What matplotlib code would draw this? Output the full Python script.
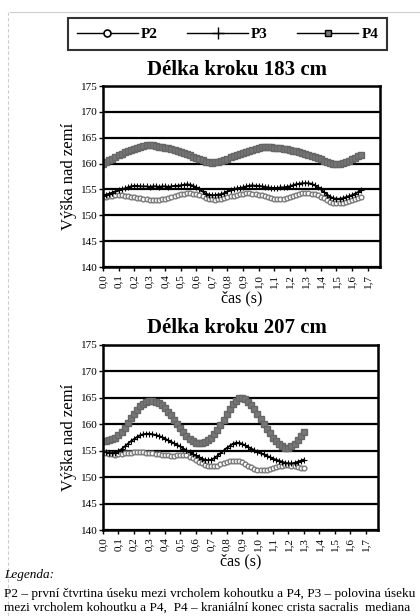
import numpy as np
import matplotlib
matplotlib.use("Agg")
import matplotlib.pyplot as plt
from matplotlib.lines import Line2D
from matplotlib.ticker import FuncFormatter

plt.rcParams['font.family'] = ['Liberation Serif', 'DejaVu Serif']

# krok 0,02 s
# Délka kroku 183 cm
p2_183 = [153.5, 153.6, 153.7, 153.8, 153.9, 153.9, 153.9, 153.8, 153.7, 153.6,
          153.5, 153.4, 153.3, 153.2, 153.1, 153.0, 153.0, 153.0, 153.0, 153.1,
          153.2, 153.3, 153.5, 153.7, 153.9, 154.1, 154.2, 154.3, 154.3, 154.2,
          154.1, 153.9, 153.7, 153.4, 153.2, 153.1, 153.0, 153.1, 153.2, 153.4,
          153.5, 153.7, 153.8, 154.0, 154.1, 154.2, 154.3, 154.3, 154.2, 154.1,
          154.0, 153.9, 153.7, 153.5, 153.4, 153.2, 153.1, 153.1, 153.1, 153.3,
          153.5, 153.8, 154.0, 154.2, 154.3, 154.3, 154.3, 154.2, 154.1, 153.9,
          153.6, 153.3, 152.9, 152.6, 152.4, 152.3, 152.3, 152.4, 152.6, 152.8,
          153.0, 153.2, 153.4, 153.5]
p3_183 = [153.8, 154.0, 154.2, 154.4, 154.6, 154.8, 155.0, 155.2, 155.4, 155.6,
          155.7, 155.7, 155.6, 155.6, 155.6, 155.5, 155.6, 155.6, 155.5, 155.6,
          155.6, 155.5, 155.6, 155.7, 155.7, 155.8, 155.9, 156.0, 155.9, 155.7,
          155.4, 155.0, 154.6, 154.2, 154.0, 153.9, 153.9, 154.0, 154.1, 154.3,
          154.6, 154.8, 155.0, 155.2, 155.3, 155.4, 155.6, 155.7, 155.8, 155.7,
          155.7, 155.6, 155.5, 155.4, 155.3, 155.3, 155.3, 155.4, 155.4, 155.5,
          155.6, 155.8, 156.0, 156.1, 156.2, 156.2, 156.2, 156.1, 155.8, 155.4,
          155.0, 154.5, 154.0, 153.6, 153.3, 153.2, 153.2, 153.3, 153.5, 153.7,
          153.9, 154.2, 154.5, 154.8]
p4_183 = [160.0, 160.3, 160.6, 160.9, 161.3, 161.6, 161.9, 162.2, 162.5, 162.7,
          162.9, 163.1, 163.3, 163.4, 163.5, 163.5, 163.5, 163.4, 163.3, 163.2,
          163.1, 163.0, 162.8, 162.6, 162.5, 162.3, 162.1, 161.8, 161.6, 161.3,
          161.0, 160.8, 160.6, 160.4, 160.3, 160.2, 160.3, 160.4, 160.5, 160.7,
          160.9, 161.2, 161.4, 161.6, 161.8, 162.0, 162.3, 162.5, 162.7, 162.9,
          163.1, 163.2, 163.2, 163.2, 163.2, 163.1, 163.1, 163.0, 162.9, 162.8,
          162.7, 162.5, 162.4, 162.2, 162.1, 161.9, 161.7, 161.5, 161.3, 161.0,
          160.8, 160.5, 160.3, 160.1, 160.0, 160.0, 160.0, 160.1, 160.3, 160.5,
          160.8, 161.1, 161.4, 161.7]

# Délka kroku 207 cm
p2_207 = [154.7, 154.6, 154.4, 154.3, 154.2, 154.3, 154.4, 154.5, 154.6, 154.6,
          154.7, 154.7, 154.7, 154.7, 154.6, 154.6, 154.5, 154.4, 154.3, 154.2,
          154.1, 154.1, 154.0, 154.0, 154.1, 154.1, 154.2, 154.1, 153.9, 153.6,
          153.2, 152.9, 152.6, 152.3, 152.2, 152.1, 152.1, 152.2, 152.4, 152.6,
          152.8, 153.0, 153.1, 153.1, 153.0, 152.8, 152.5, 152.2, 151.9, 151.6,
          151.4, 151.3, 151.3, 151.4, 151.5, 151.7, 151.9, 152.1, 152.2, 152.3,
          152.3, 152.2, 152.1, 151.9, 151.8, 151.7]
p3_207 = [154.8, 154.7, 154.6, 154.5, 154.6, 154.9, 155.3, 155.8, 156.3, 156.8,
          157.2, 157.6, 157.9, 158.1, 158.2, 158.2, 158.1, 158.0, 157.8, 157.6,
          157.3, 157.0, 156.7, 156.4, 156.1, 155.8, 155.4, 155.1, 154.7, 154.4,
          154.1, 153.8, 153.5, 153.3, 153.2, 153.3, 153.6, 154.0, 154.5, 155.0,
          155.5, 155.9, 156.3, 156.5, 156.5, 156.3, 156.0, 155.7, 155.4, 155.1,
          154.8, 154.5, 154.3, 154.0, 153.8, 153.5, 153.3, 153.1, 152.9, 152.7,
          152.6, 152.6, 152.7, 152.9, 153.1, 153.3]
p4_207 = [156.9, 156.9, 157.0, 157.2, 157.5, 157.9, 158.5, 159.3, 160.2, 161.1,
          161.9, 162.7, 163.4, 163.9, 164.3, 164.5, 164.5, 164.3, 164.0, 163.6,
          163.1, 162.4, 161.7, 160.9, 160.1, 159.3, 158.5, 157.8, 157.2, 156.8,
          156.5, 156.4, 156.4, 156.6, 157.0, 157.5, 158.2, 159.0, 159.9, 160.9,
          161.9, 162.9, 163.8, 164.5, 164.9, 165.0, 164.8, 164.3, 163.6, 162.8,
          161.9, 161.0, 160.1, 159.2, 158.3, 157.5, 156.8, 156.2, 155.8, 155.6,
          155.6, 155.8, 156.3, 157.0, 157.8, 158.6]

x_ticks = [i / 10 for i in range(18)]
y_ticks = [140, 145, 150, 155, 160, 165, 170, 175]

W, H = 420, 616
fig = plt.figure(figsize=(W / 100, H / 100), dpi=100)

def fx(px):
    return px / W

def fy(py):
    return 1 - py / H

st_p2 = dict(color='#808080', marker='o', ms=3.4, mfc='white', mec='#7a7a7a', mew=1.0, lw=0.8)
st_p3 = dict(color='black', marker='+', ms=4.5, mew=0.8, lw=1.3)
st_p4 = dict(color='#777777', marker='s', ms=4.2, mec='#666666', lw=1.0)


def kreslit(rect, title, p2, p3, p4, title_y):
    ax = fig.add_axes(rect)
    t = np.arange(len(p2)) * 0.02
    ax.plot(t, p2, **st_p2)
    ax.plot(t, p3, **st_p3)
    ax.plot(t, p4, **st_p4)
    ax.set_xlim(0, 1.78)
    ax.set_ylim(140, 175)
    ax.set_yticks(y_ticks)
    ax.set_xticks(x_ticks)
    ax.xaxis.set_major_formatter(FuncFormatter(lambda v, p: f"{v:.1f}".replace('.', ',')))
    ax.tick_params(axis='x', labelrotation=90, labelsize=8, length=3, width=1, pad=2)
    ax.tick_params(axis='y', labelsize=8, length=3, width=1, pad=1)
    ax.grid(axis='y', color='black', lw=1.6)
    ax.set_axisbelow(True)
    for s in ax.spines.values():
        s.set_linewidth(1.8)
    ax.set_xlabel('čas (s)', fontsize=11.5, labelpad=2)
    ax.set_ylabel('Výška nad zemí', fontsize=12, labelpad=3)
    fig.text(fx(237), fy(title_y), title, fontsize=15, fontweight='bold', ha='center', va='center')
    return ax


kreslit([fx(103), fy(267), fx(277), 181 / H], 'Délka kroku 183 cm', p2_183, p3_183, p4_183, 70)
kreslit([fx(103), fy(530), fx(275), 185 / H], 'Délka kroku 207 cm', p2_207, p3_207, p4_207, 328)

# legenda nahore
handles = [
    Line2D([], [], color='black', lw=1, marker='o', ms=5, mfc='white', mec='black', mew=1.2),
    Line2D([], [], color='black', lw=1, marker='+', ms=8, mew=1),
    Line2D([], [], color='black', lw=1, marker='s', ms=5, mfc='#777777', mec='black'),
]
leg = fig.legend(handles, ['P2', 'P3', 'P4'], ncol=3, loc='center',
                 bbox_to_anchor=(fx(60), fy(51), 335 / W, 34 / H), mode='expand',
                 handlelength=4.0, numpoints=1, frameon=True, fancybox=False,
                 edgecolor='black', prop={'size': 11, 'weight': 'bold'},
                 borderpad=0.6, handletextpad=0.2)
leg.get_frame().set_linewidth(1.5)

fig.text(fx(4), fy(575), 'Legenda:', fontsize=9.5, style='italic', va='center')
fig.text(fx(4), fy(594), 'P2 – první čtvrtina úseku mezi vrcholem kohoutku a P4, P3 – polovina úseku',
         fontsize=9.5, va='center')
fig.text(fx(4), fy(608), 'mezi vrcholem kohoutku a P4,  P4 – kraniální konec crista sacralis  mediana',
         fontsize=9.5, va='center')

# okraj skenu
fig.add_artist(Line2D([fx(10), 1], [fy(12), fy(12)], color='#cccccc', lw=0.8))
fig.add_artist(Line2D([fx(8), fx(8)], [fy(12), 0], color='#cccccc', lw=0.8, ls=(0, (3, 2))))

fig.savefig('out.png', dpi=100)
